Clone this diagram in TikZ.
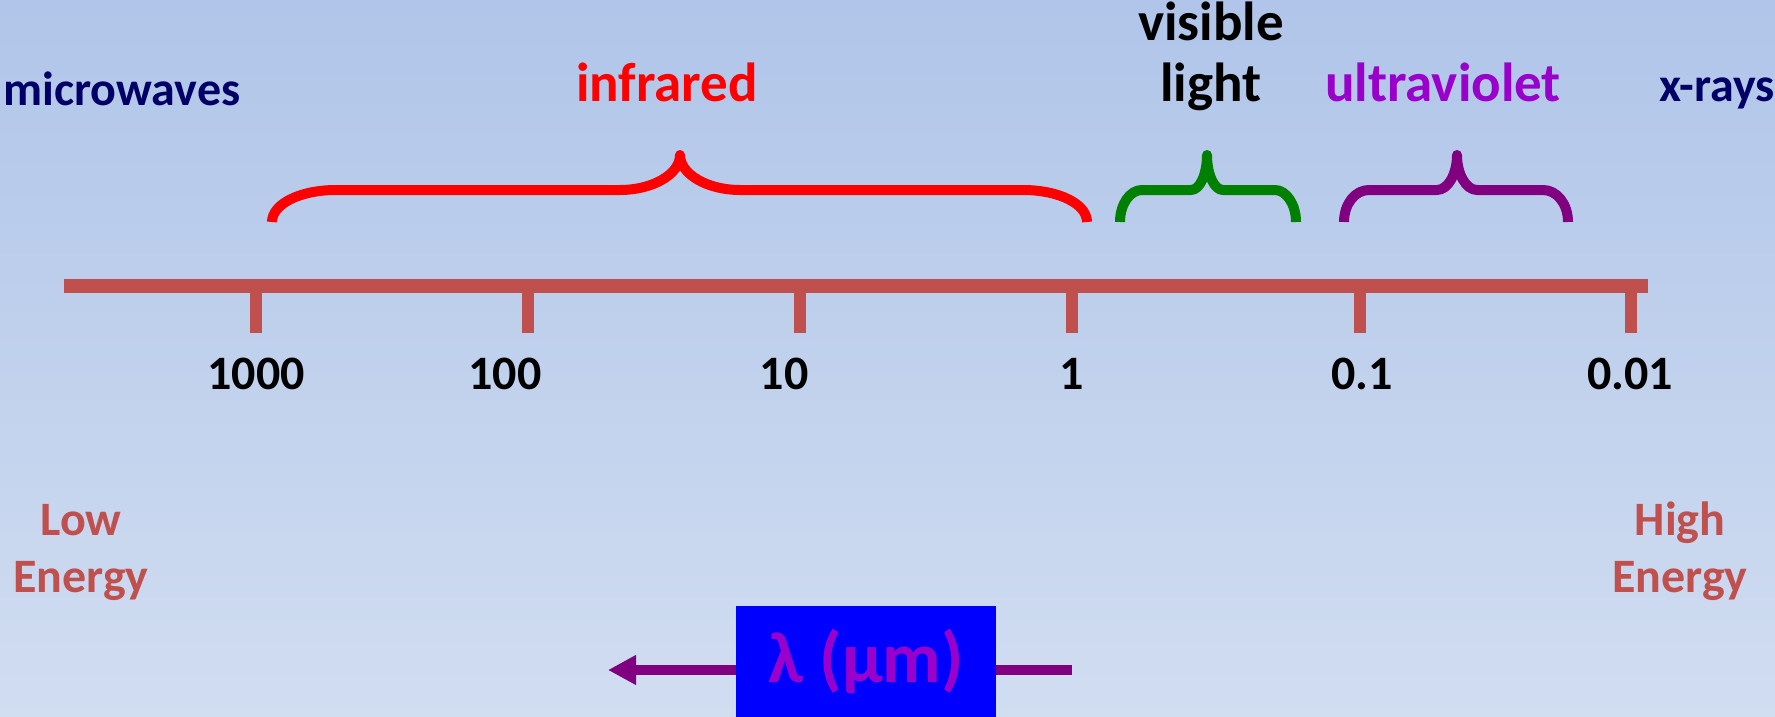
\documentclass[tikz,border=0pt]{standalone}
\usepackage{fontspec}
\setmainfont{Carlito}
\usetikzlibrary{arrows.meta}
\definecolor{bgtop}{RGB}{176,197,233}
\definecolor{bgbot}{RGB}{209,221,241}
\definecolor{axisred}{RGB}{192,80,77}
\definecolor{navytext}{RGB}{0,0,102}
\definecolor{uvtext}{RGB}{153,0,204}
\definecolor{bracepurple}{RGB}{128,0,128}
\definecolor{bracegreen}{RGB}{0,128,0}
\begin{document}
\begin{tikzpicture}[x=1pt,y=-1pt,
  lbl/.style={font=\fontsize{48}{57}\selectfont\bfseries, inner sep=0pt, anchor=base},
  biglbl/.style={lbl, font=\fontsize{55}{62}\selectfont\bfseries},
  twoline/.style={lbl, align=center},
  bracepath/.style={line width=10pt, line cap=butt, line join=round},
  axisline/.style={draw=axisred, line width=14pt, line cap=butt},
  tickline/.style={draw=axisred, line width=12pt, line cap=butt},
  lambdabox/.style={fill=blue, inner sep=0pt, minimum width=260pt, minimum height=111pt,
     text=uvtext, font=\fontsize{72}{76}\selectfont\bfseries},
  scalearrow/.style={draw=bracepurple, line width=10pt, -{Triangle[length=28pt,width=28pt]}}
]
\shade[top color=bgtop,bottom color=bgbot] (0,0) rectangle (1775,717);
\useasboundingbox (0,0) rectangle (1775,717);

% axis
\draw[axisline] (64,286) -- (1648,286);
\foreach \x in {256,528,800,1072,1360,1631}
  \draw[tickline] (\x,290) -- (\x,333);

% numbers
\node[lbl] (n1000) at (256,389) {1000};
\node[lbl] (n100) at (505,389) {100};
\node[lbl] (n10) at (784,389) {10};
\node[lbl] (n1) at (1072,389) {1};
\node[lbl] (n01) at (1362,389) {0.1};
\node[lbl] (n001) at (1630,389) {0.01};

% region labels
\node[lbl, text=navytext] (micro) at (122,106) {microwaves};
\node[biglbl, text=red] (ir) at (667,102) {infrared};
\node[biglbl, align=center] (vis) at (1211,102) {visible\\light};
\node[biglbl, text=uvtext] (uv) at (1443,102) {ultraviolet};
\node[lbl, text=navytext] (xray) at (1717,101) {x-rays};

% braces
\draw[bracepath, red] (272,222) .. controls (272,204) and (300,190) .. (336,190)
  -- (620,190) .. controls (653,190) and (680,174) .. (680,155)
  .. controls (680,174) and (707,190) .. (740,190)
  -- (1023,190) .. controls (1059,190) and (1087,204) .. (1087,222);
\draw[bracepath, bracegreen] (1120,222) .. controls (1120,204) and (1130,190) .. (1142,190)
  -- (1191,190) .. controls (1200,190) and (1207,174) .. (1207,155)
  .. controls (1207,174) and (1214,190) .. (1223,190)
  -- (1275,190) .. controls (1286,190) and (1296,204) .. (1296,222);
\draw[bracepurple, bracepath] (1344,222) .. controls (1344,204) and (1355,190) .. (1369,190)
  -- (1437,190) .. controls (1448,190) and (1457,174) .. (1457,155)
  .. controls (1457,174) and (1466,190) .. (1477,190)
  -- (1543,190) .. controls (1557,190) and (1568,204) .. (1568,222);

% energy labels
\node[twoline, text=axisred] (low) at (81,592) {Low\\Energy};
\node[twoline, text=axisred] (high) at (1680,592) {High\\Energy};

% wavelength arrow
\coordinate (arrR) at (1072,670);
\coordinate (arrL) at (608,670);
\draw[scalearrow] (arrR) -- (arrL);
\node[lambdabox] (lam) at (866,661.5) {λ (μm)\hspace{36pt}};
\end{tikzpicture}
\end{document}
